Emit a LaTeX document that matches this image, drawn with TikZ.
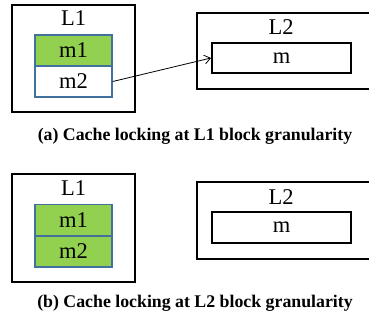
\documentclass[tikz,border=0pt]{standalone}
\usepackage{fontspec}
\setmainfont{Liberation Serif}
\usetikzlibrary{arrows.meta}
\definecolor{cellgreen}{HTML}{92D050}
\definecolor{cellblue}{HTML}{41719C}
\newcommand{\lblfont}{\fontsize{22.5}{24}\selectfont}
\newcommand{\capfont}{\fontsize{17.8}{20}\selectfont\bfseries}
\tikzset{
  outerbox/.style={draw=black, line width=2pt, inner sep=0pt},
  cell/.style={draw=cellblue, line width=1.5pt, minimum width=77pt, minimum height=31pt, inner sep=0pt, font=\lblfont},
  lockedcell/.style={cell, fill=cellgreen},
  wide/.style={draw=black, line width=2pt, minimum width=139pt, minimum height=30pt, inner sep=0pt, font=\lblfont},
  lbl/.style={inner sep=0pt, font=\lblfont},
  captiontext/.style={inner sep=0pt, font=\capfont},
}
\begin{document}
\begin{tikzpicture}[x=1pt,y=-1pt]
\useasboundingbox (0,0) rectangle (369,320);
% ---- (a) ----
\node[outerbox, minimum width=123pt, minimum height=107pt] (a1box) at (73.5,58.5) {};
\node[lbl] (a1lbl) at (73.5,18) {L1};
\node[lockedcell] (am1) at (73.5,50.5) {m1};
\node[cell] (am2) at (73.5,81.5) {m2};
\node[outerbox, minimum width=176pt, minimum height=76pt] (a2box) at (285,51) {};
\node[lbl] (a2lbl) at (281,27) {L2};
\node[wide] (am) at (281.5,58) {m};
\draw[line width=0.8pt, -{Straight Barb[length=6pt,width=9pt]}] (am2.east) -- (am.west);
\node[captiontext] (capa) at (195,136) {(a) Cache locking at L1 block granularity};
% ---- (b) ----
\node[outerbox, minimum width=123pt, minimum height=108pt] (b1box) at (73.5,228) {};
\node[lbl] (b1lbl) at (73.5,188) {L1};
\node[lockedcell] (bm1) at (73.5,220) {m1};
\node[lockedcell] (bm2) at (73.5,251.5) {m2};
\node[outerbox, minimum width=176pt, minimum height=77pt] (b2box) at (285,220.5) {};
\node[lbl] (b2lbl) at (281,197) {L2};
\node[wide] (bm) at (281.5,227.5) {m};
\node[captiontext] (capb) at (195,303) {(b) Cache locking at L2 block granularity};
\end{tikzpicture}
\end{document}
